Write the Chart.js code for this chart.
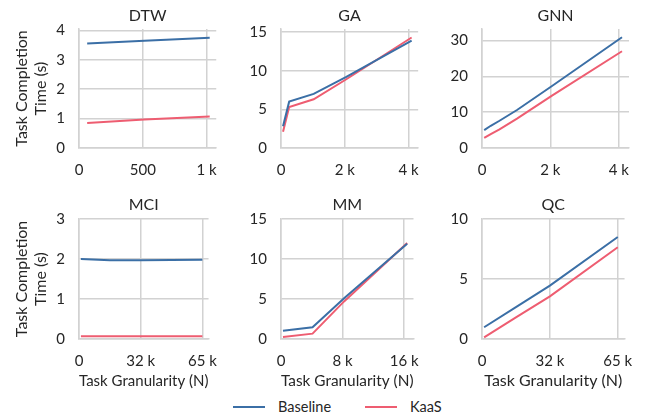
<!DOCTYPE html>
<html>
<head>
<meta charset="utf-8">
<script src="https://cdn.jsdelivr.net/npm/chart.js@4/dist/chart.umd.min.js"></script>
<style>
  body { margin: 0; background: #fff; width: 646px; height: 417px; position: relative; overflow: hidden; font-family: Lato, sans-serif; }
  canvas { position: absolute; }
  #legend { position: absolute; top: 398px; left: 0; width: 646px; height: 18px; }
  .lg-item { position: absolute; top: 0; height: 18px; font-size: 14.5px; color: #262626; line-height: 18px; }
  .lg-line { position: absolute; top: 8px; width: 32px; height: 2px; }
</style>
</head>
<body>
<canvas id="c0" width="230" height="190" style="left:0;top:0"></canvas>
<canvas id="c1" width="202" height="190" style="left:230px;top:0"></canvas>
<canvas id="c2" width="214" height="190" style="left:432px;top:0"></canvas>
<canvas id="c3" width="230" height="201" style="left:0;top:190px"></canvas>
<canvas id="c4" width="202" height="201" style="left:230px;top:190px"></canvas>
<canvas id="c5" width="214" height="201" style="left:432px;top:190px"></canvas>
<div id="legend"></div>
<script>
// series names and colours
const seriesNames = ['Baseline', 'KaaS'];
const seriesColors = ['#3b6fa6', '#ee5d71'];

// DTW
const dtwN = [64, 512, 1024];
const dtwBaseline = [3.56, 3.65, 3.75];
const dtwKaas = [0.85, 0.97, 1.07];
const dtwXTicks = [0, 500, 1000];
const dtwXLabels = ['0', '500', '1 k'];
const dtwYTicks = [0, 1, 2, 3, 4];

// GA
const gaN = [64, 256, 1024, 2048, 4096];
const gaBaseline = [2.8, 6.0, 7.0, 9.2, 13.9];
const gaKaas = [2.1, 5.3, 6.3, 8.9, 14.3];
const gaXTicks = [0, 2000, 4000];
const gaXLabels = ['0', '2 k', '4 k'];
const gaYTicks = [0, 5, 10, 15];

// GNN
const gnnN = [64, 256, 512, 1024, 2048, 4096];
const gnnBaseline = [5.0, 6.2, 7.6, 10.6, 17.3, 30.9];
const gnnKaas = [2.8, 3.9, 5.2, 8.2, 14.6, 27.0];
const gnnXTicks = [0, 2000, 4000];
const gnnXLabels = ['0', '2 k', '4 k'];
const gnnYTicks = [0, 10, 20, 30];

// MCI
const mciN = [1024, 16384, 32768, 65536];
const mciBaseline = [2.0, 1.97, 1.97, 1.98];
const mciKaas = [0.07, 0.07, 0.07, 0.07];
const mciXTicks = [0, 32768, 65536];
const mciXLabels = ['0', '32 k', '65 k'];
const mciYTicks = [0, 1, 2, 3];

// MM
const mmN = [256, 4096, 8192, 16384];
const mmBaseline = [1.04, 1.46, 5.1, 11.9];
const mmKaas = [0.25, 0.67, 4.7, 12.0];
const mmXTicks = [0, 8000, 16000];
const mmXLabels = ['0', '8 k', '16 k'];
const mmYTicks = [0, 5, 10, 15];

// QC
const qcN = [1024, 16384, 32768, 65536];
const qcBaseline = [0.98, 2.65, 4.45, 8.5];
const qcKaas = [0.13, 1.8, 3.55, 7.65];
const qcXTicks = [0, 32768, 65536];
const qcXLabels = ['0', '32 k', '65 k'];
const qcYTicks = [0, 5, 10];

const FONT = 'Lato, sans-serif';
const GRID = '#d2d2d2';
const TXT = '#262626';

const panels = [
  { id: 'c0', title: 'DTW', n: dtwN, ys: [dtwBaseline, dtwKaas], xt: dtwXTicks, xl: dtwXLabels, yt: dtwYTicks, ymax: 4.05, yW: 79, padR: 4, row: 0, ylab: true },
  { id: 'c1', title: 'GA', n: gaN, ys: [gaBaseline, gaKaas], xt: gaXTicks, xl: gaXLabels, yt: gaYTicks, ymax: 15.4, yW: 51, padR: 5, row: 0 },
  { id: 'c2', title: 'GNN', n: gnnN, ys: [gnnBaseline, gnnKaas], xt: gnnXTicks, xl: gnnXLabels, yt: gnnYTicks, ymax: 33.2, yW: 50, padR: 17, row: 0 },
  { id: 'c3', title: 'MCI', n: mciN, ys: [mciBaseline, mciKaas], xt: mciXTicks, xl: mciXLabels, yt: mciYTicks, ymax: 3.0, yW: 79, padR: 4, row: 1, ylab: true },
  { id: 'c4', title: 'MM', n: mmN, ys: [mmBaseline, mmKaas], xt: mmXTicks, xl: mmXLabels, yt: mmYTicks, ymax: 15.0, yW: 51, padR: 5, row: 1 },
  { id: 'c5', title: 'QC', n: qcN, ys: [qcBaseline, qcKaas], xt: qcXTicks, xl: qcXLabels, yt: qcYTicks, ymax: 10.0, yW: 50, padR: 17, row: 1 }
];

// title centred over the plot area, not the whole canvas
const plotTitle = {
  id: 'plotTitle',
  afterDraw(chart, args, opts) {
    const { ctx, chartArea } = chart;
    ctx.save();
    ctx.font = `16px ${FONT}`;
    ctx.fillStyle = TXT;
    ctx.textAlign = 'center';
    ctx.textBaseline = 'middle';
    ctx.fillText(opts.text, (chartArea.left + chartArea.right) / 2, opts.y);
    ctx.restore();
  }
};

panels.forEach(p => {
  const xH = p.row === 0 ? 42 : 52;
  const xmax = p.n[p.n.length - 1] * 1.05;
  new Chart(document.getElementById(p.id), {
    type: 'line',
    plugins: [plotTitle],
    data: {
      datasets: p.ys.map((ys, i) => ({
        label: seriesNames[i],
        data: p.n.map((x, j) => ({ x: x, y: ys[j] })),
        borderColor: seriesColors[i],
        borderWidth: 2,
        pointRadius: 0,
        tension: 0,
        fill: false
      }))
    },
    options: {
      responsive: false, animation: false, devicePixelRatio: 1,
      layout: { padding: { top: 29, right: p.padR, left: 0, bottom: 0 } },
      plugins: {
        legend: { display: false },
        tooltip: { enabled: false },
        title: { display: false },
        plotTitle: { text: p.title, y: p.row === 0 ? 16 : 15 }
      },
      scales: {
        x: {
          type: 'linear', min: 0, max: xmax,
          afterBuildTicks: s => { s.ticks = p.xt.map(v => ({ value: v })); },
          afterFit: s => { s.height = xH; },
          ticks: { color: TXT, padding: 13, font: { family: FONT, size: 15 }, maxRotation: 0,
            callback: v => p.xl[p.xt.indexOf(v)] },
          grid: { color: GRID, lineWidth: 1.5, drawTicks: false },
          border: { color: GRID, width: 1.5 },
          title: { display: p.row === 1, text: 'Task Granularity (N)', color: TXT, font: { family: FONT, size: 16 }, padding: { top: 0, bottom: 1 } }
        },
        y: {
          type: 'linear', min: 0, max: p.ymax,
          afterBuildTicks: s => { s.ticks = p.yt.map(v => ({ value: v })); },
          afterFit: s => { s.width = p.yW; },
          ticks: { color: TXT, padding: 14, font: { family: FONT, size: 15 } },
          grid: { color: GRID, lineWidth: 1.5, drawTicks: false },
          border: { color: GRID, width: 1.5 },
          title: { display: !!p.ylab, text: ['Task Completion', 'Time (s)'], color: TXT, font: { family: FONT, size: 16 }, padding: { top: 12, bottom: 0 } }
        }
      }
    }
  });
});

// legend
const legend = document.getElementById('legend');
const legendX = [233, 365];
seriesNames.forEach((name, i) => {
  legend.innerHTML += `<div class="lg-line" style="left:${legendX[i]}px;background:${seriesColors[i]}"></div>` +
    `<div class="lg-item" style="left:${legendX[i] + 45}px">${name}</div>`;
});
</script>
</body>
</html>
